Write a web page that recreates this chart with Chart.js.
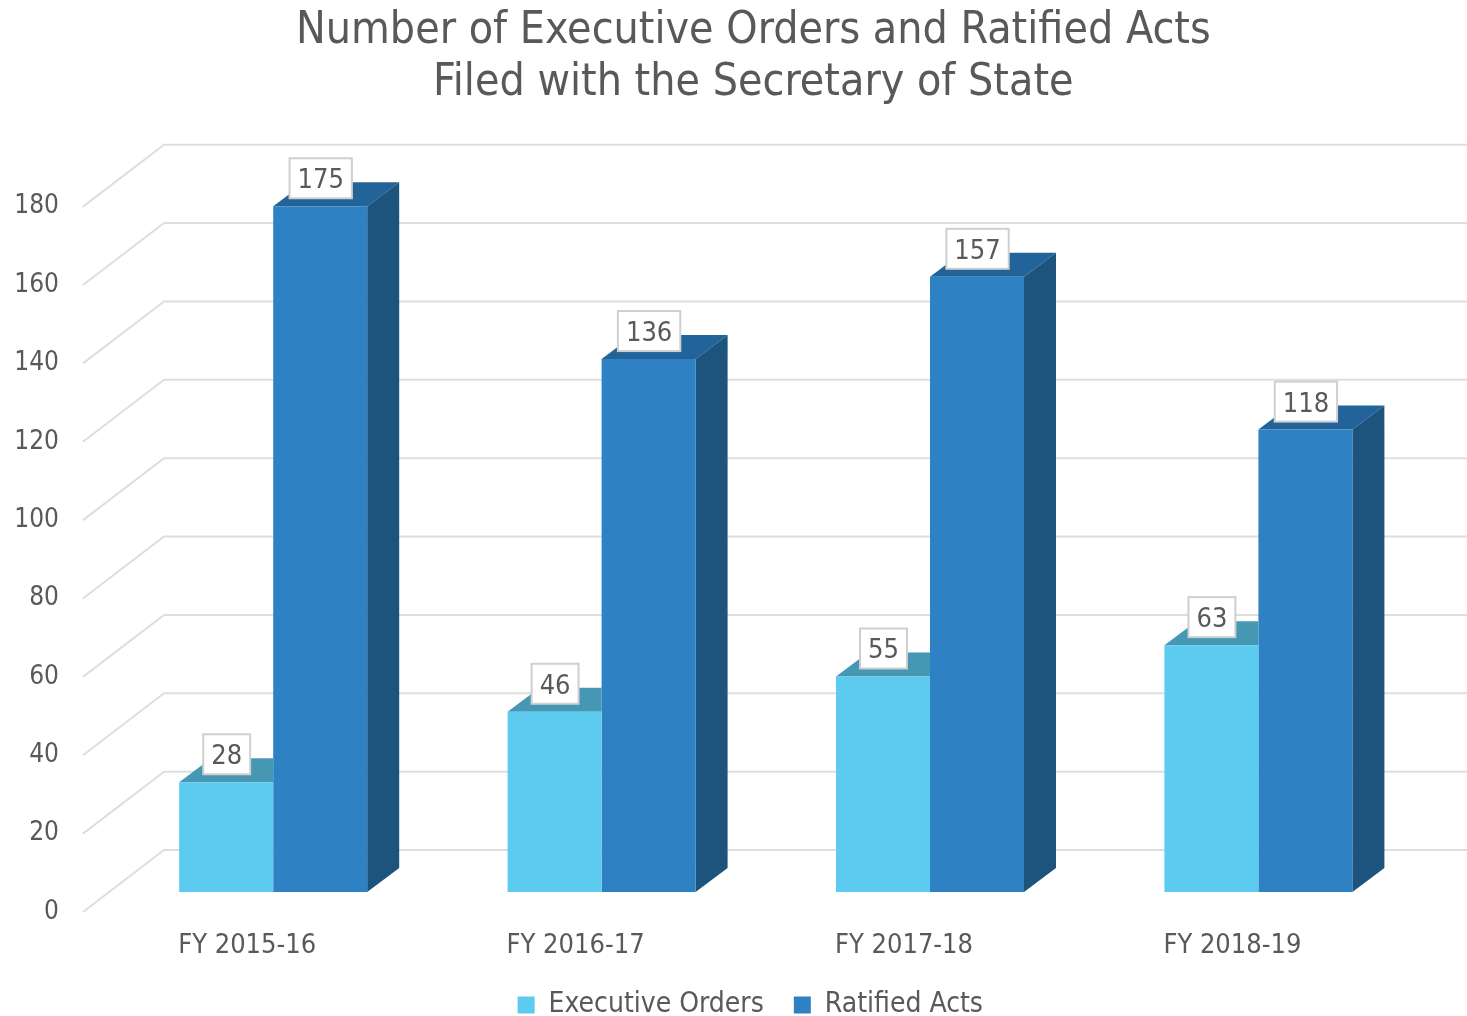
<!DOCTYPE html>
<html>
<head>
<meta charset="utf-8">
<title>Executive Orders and Ratified Acts</title>
<script src="https://cdn.jsdelivr.net/npm/chart.js@4"></script>
<style>
  html, body { margin: 0; padding: 0; background: #fff; }
  canvas { display: block; }
</style>
</head>
<body>
<canvas id="chart" width="1467" height="1016"></canvas>
<script>
const categories = ['FY 2015-16', 'FY 2016-17', 'FY 2017-18', 'FY 2018-19']
const executiveOrders = [28, 46, 55, 63]
const ratifiedActs = [175, 136, 157, 118]
const titleLines = ['Number of Executive Orders and Ratified Acts', 'Filed with the Secretary of State']

const fontName = '"DejaVu Sans Condensed", "DejaVu Sans", sans-serif'
const textColor = '#595959'

// where the bars sit inside the fake 3d box, in px
const barShift = { x: 26, y: -20 }
const barDepth = { x: 32, y: -24 }
const wallDepth = { x: 81, y: -62 }

// dataset 0 is drawn after dataset 1, so its top stops at the edge of its neighbour
const shades = [
  { top: '#4597B4', side: null },
  { top: '#22649A', side: '#1C547E' }
]

const box3d = {
  id: 'box3d',
  afterLayout(chart) {
    // title and legend are not centred on the canvas in the original
    chart.titleBlock.left += 55
    chart.titleBlock.right += 55
    chart.legend.left += 52
    chart.legend.right += 52
    // legend clips to its own box, so only the top moves
    chart.legend.top -= 21
  },
  beforeDatasetsDraw(chart) {
    const { ctx, chartArea, scales } = chart
    ctx.save()
    ctx.strokeStyle = '#DEDEDE'
    ctx.lineWidth = 2
    for (const tick of scales.y.ticks) {
      const y = scales.y.getPixelForValue(tick.value)
      ctx.beginPath()
      ctx.moveTo(chartArea.left, y)
      ctx.lineTo(chartArea.left + wallDepth.x, y + wallDepth.y)
      ctx.lineTo(chart.width, y + wallDepth.y)
      ctx.stroke()
    }
    ctx.restore()
  },
  beforeDatasetDraw(chart, args) {
    const { ctx } = chart
    const colors = shades[args.index]
    ctx.save()
    ctx.translate(barShift.x, barShift.y)
    for (const bar of args.meta.data) {
      const left = bar.x - bar.width / 2
      const right = bar.x + bar.width / 2
      ctx.fillStyle = colors.top
      ctx.beginPath()
      ctx.moveTo(left, bar.y)
      ctx.lineTo(left + barDepth.x, bar.y + barDepth.y)
      ctx.lineTo(colors.side ? right + barDepth.x : right, bar.y + barDepth.y)
      ctx.lineTo(right, bar.y)
      ctx.closePath()
      ctx.fill()
      if (colors.side) {
        ctx.fillStyle = colors.side
        ctx.beginPath()
        ctx.moveTo(right, bar.y)
        ctx.lineTo(right + barDepth.x, bar.y + barDepth.y)
        ctx.lineTo(right + barDepth.x, bar.base + barDepth.y)
        ctx.lineTo(right, bar.base)
        ctx.closePath()
        ctx.fill()
      }
    }
  },
  afterDatasetDraw(chart) {
    chart.ctx.restore()
  },
  afterDatasetsDraw(chart) {
    const { ctx } = chart
    ctx.save()
    ctx.font = '27px ' + fontName
    ctx.textAlign = 'center'
    ctx.textBaseline = 'middle'
    chart.data.datasets.forEach((set, i) => {
      chart.getDatasetMeta(i).data.forEach((bar, j) => {
        const label = String(set.data[j])
        const w = ctx.measureText(label).width + 16
        const h = 40
        const cx = bar.x + barShift.x + 0.5
        const bottom = bar.y + barShift.y - 8
        ctx.fillStyle = '#fff'
        ctx.strokeStyle = '#CFCFCF'
        ctx.lineWidth = 2
        ctx.fillRect(cx - w / 2, bottom - h, w, h)
        ctx.strokeRect(cx - w / 2, bottom - h, w, h)
        ctx.fillStyle = textColor
        ctx.fillText(label, cx, bottom - h / 2 + 3)
      })
    })
    ctx.restore()
  }
}

new Chart(document.getElementById('chart'), {
  type: 'bar',
  plugins: [box3d],
  data: {
    labels: categories,
    datasets: [
      { label: 'Executive Orders', data: executiveOrders, backgroundColor: '#5DCBF0', clip: false },
      { label: 'Ratified Acts', data: ratifiedActs, backgroundColor: '#2E82C4', clip: false }
    ]
  },
  options: {
    responsive: false,
    animation: false,
    layout: { padding: { left: 0, right: 70.4, top: 0, bottom: 0 } },
    datasets: { bar: { barPercentage: 1, categoryPercentage: 0.5725 } },
    scales: {
      x: {
        afterFit: (scale) => { scale.height = 70 },
        grid: { display: false },
        border: { display: false },
        ticks: { color: textColor, font: { family: fontName, size: 27 }, padding: 10, maxRotation: 0 }
      },
      y: {
        min: 0,
        max: 180,
        afterFit: (scale) => { scale.width = 83 },
        grid: { display: false, drawTicks: false },
        border: { display: false },
        ticks: { stepSize: 20, color: textColor, font: { family: fontName, size: 26 }, padding: 24 }
      }
    },
    plugins: {
      tooltip: { enabled: false },
      title: {
        display: true,
        text: titleLines,
        color: textColor,
        font: { family: fontName, size: 44.3, weight: 'normal', lineHeight: 1.17 },
        padding: { top: 6, bottom: 97 }
      },
      legend: {
        position: 'bottom',
        maxHeight: 34,
        labels: {
          boxWidth: 17,
          boxHeight: 17,
          color: textColor,
          padding: 30,
          font: { family: fontName, size: 28 }
        }
      }
    }
  }
})
</script>
</body>
</html>
